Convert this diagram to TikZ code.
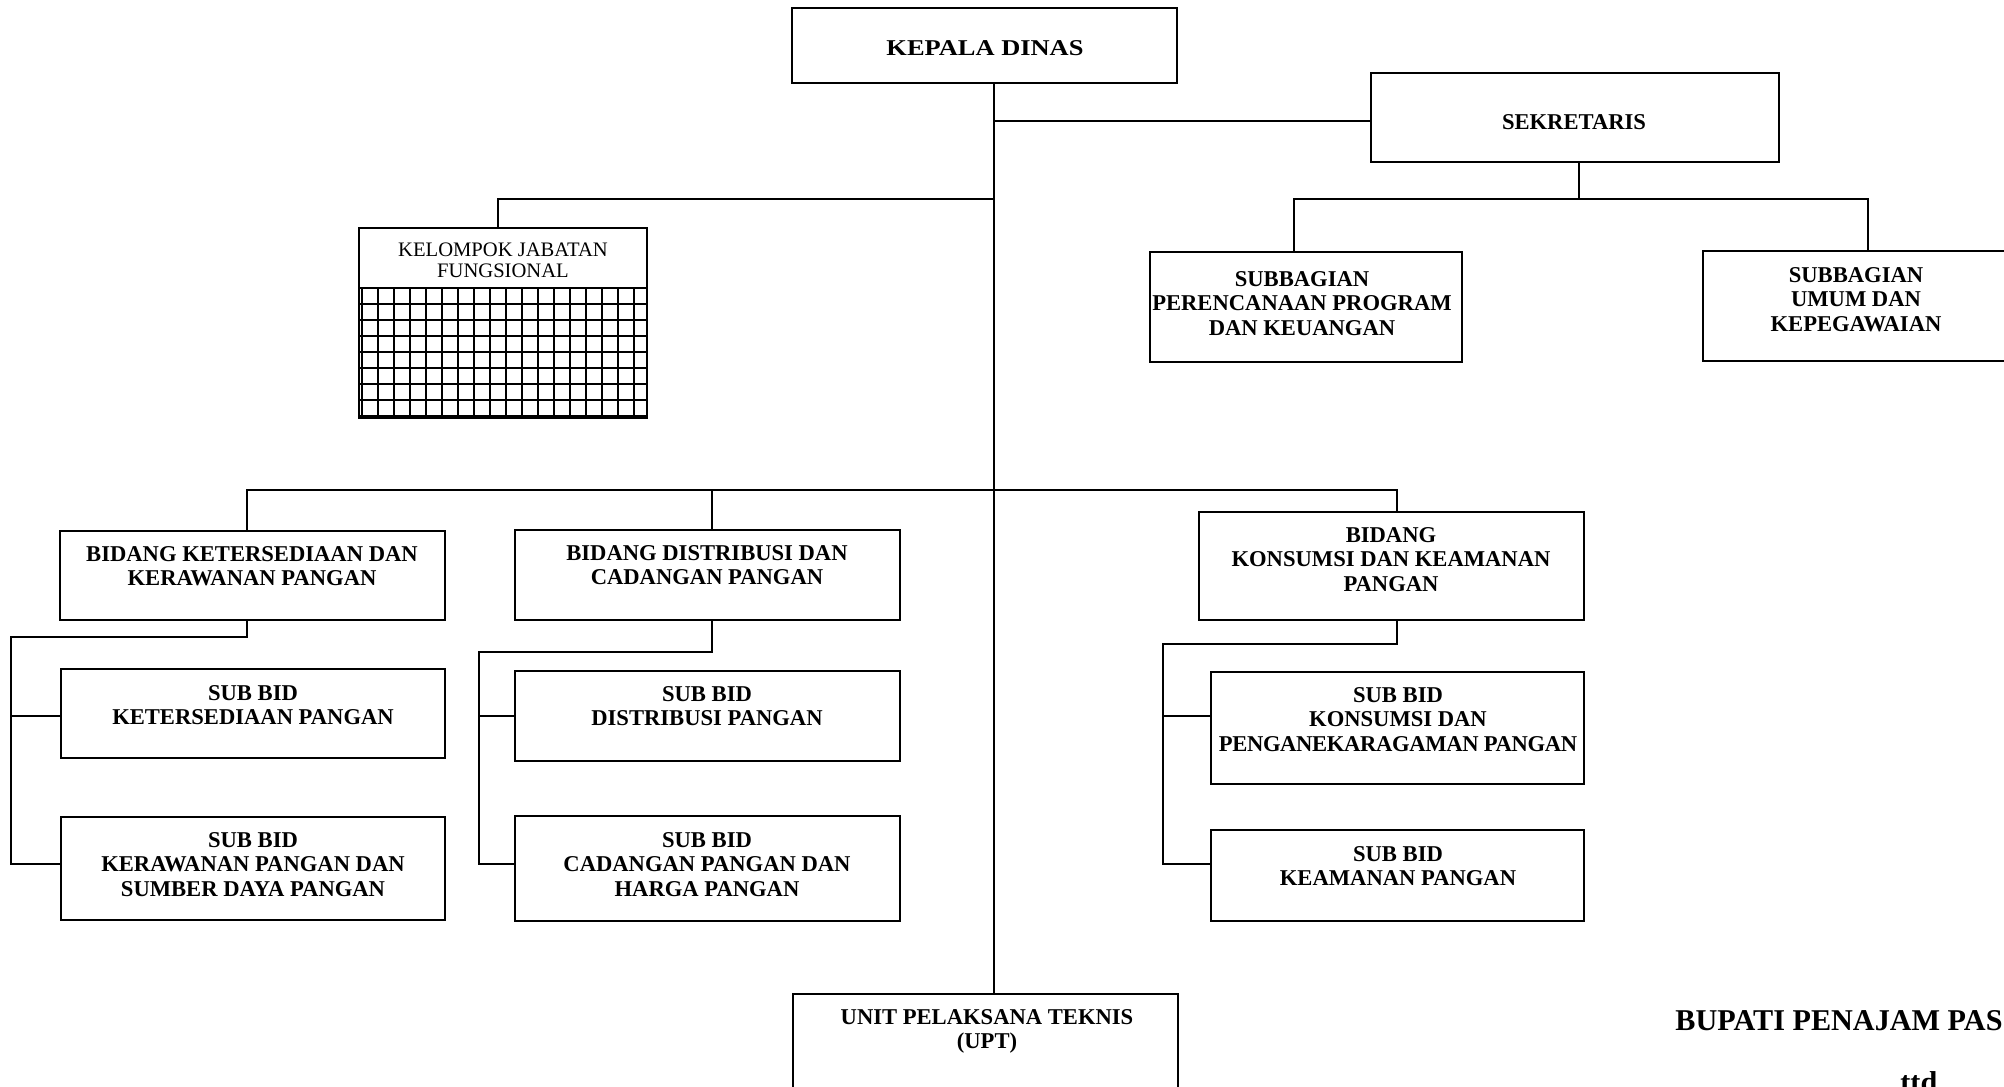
\documentclass[tikz,border=0pt]{standalone}
\usepackage{fontspec}
\setmainfont{Liberation Serif}
\usetikzlibrary{fit}
\begin{document}
\begin{tikzpicture}[x=0.5pt,y=-0.5pt,
  orgbox/.style={draw, line width=1pt, inner sep=0pt},
  lbl/.style={font=\bfseries\fontsize{11.3}{12.3}\selectfont, align=center, inner sep=0pt, anchor=north},
  kjflbl/.style={font=\fontsize{10.3}{10.5}\selectfont, align=center, inner sep=0pt, anchor=north},
  sign/.style={font=\bfseries\fontsize{15.1}{16}\selectfont, inner sep=0pt, anchor=north west},
  link/.style={line width=0.9pt},
  gridline/.style={line width=0.8pt}]
\useasboundingbox (0,0) rectangle (2004,1087);
\clip (0,0) rectangle (2004,1087);

% boxes
\node[orgbox, fit={(792,8) (1177,83)}] (kepala) {};
\node[orgbox, fit={(1371,73) (1779,162)}] (sekretaris) {};
\node[orgbox, fit={(1150,252) (1462,362)}] (perenc) {};
\node[orgbox, fit={(1703,251) (2010,361)}] (umum) {};
\node[orgbox, fit={(359,228) (647,418)}] (kjf) {};
\node[orgbox, fit={(60,531) (445,620)}] (bketer) {};
\node[orgbox, fit={(515,530) (900,620)}] (bdist) {};
\node[orgbox, fit={(1199,512) (1584,620)}] (bkons) {};
\node[orgbox, fit={(61,669) (445,758)}] (sketer) {};
\node[orgbox, fit={(61,817) (445,920)}] (skeraw) {};
\node[orgbox, fit={(515,671) (900,761)}] (sdist) {};
\node[orgbox, fit={(515,816) (900,921)}] (scad) {};
\node[orgbox, fit={(1211,672) (1584,784)}] (skons) {};
\node[orgbox, fit={(1211,830) (1584,921)}] (skeam) {};
\node[orgbox, fit={(793,994) (1178,1120)}] (upt) {};

% grid of kelompok jabatan fungsional
\draw[gridline] (kjf.west |- 0,288) -- (kjf.east |- 0,288);
\foreach \gx in {0,...,17} \draw[gridline] ({362+16*\gx},288) -- ({362+16*\gx},418);
\foreach \gy in {1,...,8} \draw[gridline] (359,{288+16*\gy}) -- (647,{288+16*\gy});

% texts
\node[lbl] (kepala-t) at (985,40) {\addfontfeature{FakeStretch=1.17}KEPALA DINAS};
\node[lbl] (sekretaris-t) at (1574,114) {SEKRETARIS};
\node[lbl] (perenc-t) at (1302,271) {SUBBAGIAN\\PERENCANAAN PROGRAM\\DAN KEUANGAN};
\node[lbl] (umum-t) at (1856,267) {SUBBAGIAN\\UMUM DAN\\KEPEGAWAIAN};
\node[kjflbl] (kjf-t) at (503,242) {KELOMPOK JABATAN\\FUNGSIONAL};
\node[lbl] (bketer-t) at (252,546) {BIDANG KETERSEDIAAN DAN\\KERAWANAN PANGAN};
\node[lbl] (bdist-t) at (707,545) {BIDANG DISTRIBUSI DAN\\CADANGAN PANGAN};
\node[lbl] (bkons-t) at (1391,527) {BIDANG\\KONSUMSI DAN KEAMANAN\\PANGAN};
\node[lbl] (sketer-t) at (253,685) {SUB BID\\KETERSEDIAAN PANGAN};
\node[lbl] (skeraw-t) at (253,832) {SUB BID\\KERAWANAN PANGAN DAN\\SUMBER DAYA PANGAN};
\node[lbl] (sdist-t) at (707,686) {SUB BID\\DISTRIBUSI PANGAN};
\node[lbl] (scad-t) at (707,832) {SUB BID\\CADANGAN PANGAN DAN\\HARGA PANGAN};
\node[lbl] (skons-t) at (1398,687) {SUB BID\\KONSUMSI DAN\\{\addfontfeature{LetterSpace=-1.5}PENGANEKARAGAMAN PANGAN}};
\node[lbl] (skeam-t) at (1398,846) {SUB BID\\KEAMANAN PANGAN};
\node[lbl] (upt-t) at (987,1009) {UNIT PELAKSANA TEKNIS\\(UPT)};
\node[sign] (bupati) at (1675,1010) {BUPATI PENAJAM PAS};
\node[sign] (ttd) at (1900,1071) {ttd};

% junction coordinates
\coordinate (spine) at (994,0);
\coordinate (secy) at (0,121);
\coordinate (topbar) at (0,199);
\coordinate (kjfx) at (498,0);
\coordinate (secx) at (1579,0);
\coordinate (perx) at (1294,0);
\coordinate (umx) at (1868,0);
\coordinate (bar) at (0,490);
\coordinate (x1) at (247,0);
\coordinate (x2) at (712,0);
\coordinate (x3) at (1397,0);
\coordinate (l1) at (11,637);
\coordinate (l2) at (479,652);
\coordinate (l3) at (1163,644);
\coordinate (r1) at (0,716);
\coordinate (r2) at (0,864);

% connectors
\draw[link] (kepala.south -| spine) -- (upt.north -| spine);
\draw[link] (spine |- secy) -- (sekretaris.west |- secy);
\draw[link] (spine |- topbar) -- (kjfx |- topbar) -- (kjfx |- kjf.north);
\draw[link] (secx |- sekretaris.south) -- (secx |- topbar);
\draw[link] (perx |- perenc.north) -- (perx |- topbar) -- (umx |- topbar) -- (umx |- umum.north);
\draw[link] (x1 |- bketer.north) -- (x1 |- bar) -- (x3 |- bar) -- (x3 |- bkons.north);
\draw[link] (x2 |- bar) -- (x2 |- bdist.north);

\draw[link] (x1 |- bketer.south) -- (x1 |- l1) -- (l1) -- (l1 |- r2) -- (sketer.west |- r2);
\draw[link] (l1 |- r1) -- (sketer.west |- r1);
\draw[link] (x2 |- bdist.south) -- (x2 |- l2) -- (l2) -- (l2 |- r2) -- (scad.west |- r2);
\draw[link] (l2 |- r1) -- (sdist.west |- r1);
\draw[link] (x3 |- bkons.south) -- (x3 |- l3) -- (l3) -- (l3 |- r2) -- (skeam.west |- r2);
\draw[link] (l3 |- r1) -- (skons.west |- r1);
\end{tikzpicture}
\end{document}
